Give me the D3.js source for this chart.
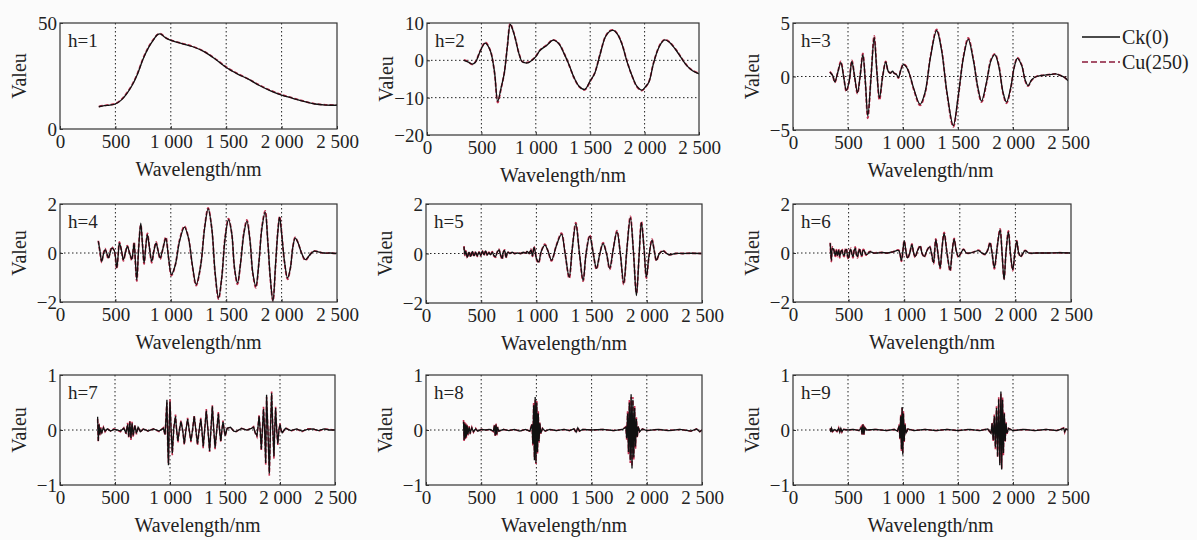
<!DOCTYPE html>
<html>
<head>
<meta charset="utf-8">
<script src="https://cdn.jsdelivr.net/npm/d3@7"></script>
<style>
body { margin: 0; background: #fbfbfb; }
</style>
</head>
<body>
<svg id="chart" width="1197" height="540"></svg>
<script>

// wavelength ticks shared by every panel
var xTicks = [0, 500, 1000, 1500, 2000, 2500];
var xTickLabels = ["0", "500", "1 000", "1 500", "2 000", "2 500"];
var seriesNames = ["Ck(0)", "Cu(250)"];

// rows: [wavelength, Ck(0), Cu(250)]
var h1 = [[350,10.5,10.6],[400,11,11.1],[450,11.3,11.4],[500,11.8,12],[550,13.5,13.7],[600,16.5,16.8],[650,20.5,20.8],[700,26,26.3],[750,33,33.3],[800,38.5,38.8],[850,42.5,42.7],[880,44.5,44.6],[910,44.8,44.9],[940,43.5,43.7],[970,42.5,42.6],[1000,41.8,41.9],[1100,40.3,40.4],[1200,38.8,38.9],[1300,36.5,36.6],[1400,33,33.2],[1500,29,29.2],[1600,26,26.2],[1700,23.5,23.6],[1800,20.5,20.7],[1900,18,18.2],[2000,16,16.2],[2100,14.5,14.6],[2200,13,13.1],[2300,11.8,11.9],[2400,11.3,11.4],[2500,11.2,11.3]];

var h2 = [[340,0,0.1],[380,-0.5,-0.4],[415,-1,-1.1],[445,-0.5,-0.4],[490,2.5,2.6],[535,4.6,4.8],[580,2.7,2.8],[620,-3,-3.2],[650,-11,-11.3],[680,-7.5,-7.7],[710,-3.5,-3.4],[740,4,4.2],[765,9.6,9.8],[790,8,8.1],[815,5.4,5.5],[845,1.8,1.9],[875,-0.4,-0.3],[905,-0.7,-0.6],[935,-0.6,-0.5],[965,0,0.1],[1000,1,1.1],[1040,2.7,2.8],[1100,4,4.1],[1160,5.4,5.5],[1210,4.5,4.6],[1260,1.8,1.9],[1310,-1.5,-1.6],[1350,-4.5,-4.6],[1400,-7,-7.1],[1450,-7.8,-7.9],[1500,-5.5,-5.6],[1540,-3.6,-3.5],[1590,1.5,1.6],[1640,6.3,6.4],[1680,7.8,7.9],[1715,8,8.1],[1750,7,7.1],[1790,4.5,4.6],[1840,-0.5,-0.4],[1890,-4.5,-4.6],[1930,-7,-7.1],[1975,-8,-8.1],[2010,-7,-7.1],[2040,-5.8,-5.7],[2080,-1,-0.9],[2120,2.7,2.8],[2150,4.5,4.6],[2185,5.5,5.6],[2230,4.8,4.9],[2290,2.7,2.8],[2340,0.5,0.6],[2390,-1.5,-1.4],[2440,-2.8,-2.7],[2500,-3.6,-3.5]];

var h3 = [[335,0.4,0.45],[360,0.1,0.1],[380,-0.5,-0.55],[405,0.3,0.3],[435,1.3,1.4],[460,0,0.05],[485,-1.3,-1.4],[510,-0.5,-0.5],[535,1.4,1.5],[560,0,0],[586,-1.5,-1.6],[610,0,0.05],[635,2.05,2.15],[658,-0.5,-0.6],[680,-3.7,-3.9],[710,0,0.1],[738,3.66,3.8],[762,0.5,0.6],[786,-2,-2.2],[815,0,0],[843,1.36,1.4],[865,0.5,0.5],[885,0.3,0.35],[905,0.5,0.45],[920,0.3,0.3],[940,0.2,0.2],[958,-0.1,-0.15],[980,0.6,0.6],[1003,1.1,1.15],[1030,0.9,0.95],[1060,0.2,0.2],[1100,-1.2,-1.3],[1155,-2.6,-2.7],[1200,-1.5,-1.6],[1250,1.8,1.9],[1306,4.3,4.4],[1350,2.5,2.6],[1400,-1.5,-1.6],[1457,-4.6,-4.7],[1500,-2,-2.1],[1550,1.8,1.9],[1593,3.5,3.6],[1640,1.5,1.6],[1680,-1,-1.1],[1714,-2.3,-2.4],[1760,-0.5,-0.6],[1800,1.5,1.6],[1835,2.05,2.1],[1870,1,1.1],[1910,-1.5,-1.6],[1941,-2.4,-2.5],[1980,-1,-1.1],[2010,0.8,0.85],[2040,1.7,1.75],[2080,1,1.05],[2110,-0.3,-0.4],[2137,-0.85,-0.9],[2170,-0.3,-0.35],[2213,0,0],[2260,0.1,0.1],[2304,0.15,0.15],[2350,0.2,0.2],[2388,0.25,0.25],[2430,0.1,0.1],[2470,-0.1,-0.1],[2500,-0.4,-0.4]];

var h4 = [[346,0.48,0.5],[360,0.1,0.05],[376,-0.34,-0.38],[392,-0.05,0],[407,0.14,0.18],[422,0,-0.05],[437,-0.2,-0.24],[452,0,0.05],[467,0.2,0.25],[490,0.1,0.08],[512,-0.6,-0.65],[525,-0.1,-0.05],[536,0.4,0.45],[555,0.1,0.1],[572,-0.27,-0.32],[590,0,0.02],[608,0.27,0.3],[628,0,0],[648,-0.25,-0.3],[660,0.1,0.1],[669,0.4,0.45],[680,-0.3,-0.35],[693,-1.1,-1.15],[710,0.2,0.25],[729,1.22,1.15],[745,0.3,0.35],[759,-0.4,-0.45],[775,0.3,0.3],[789,0.75,0.8],[808,0.2,0.2],[828,-0.34,-0.4],[848,0.1,0.1],[867,0.4,0.45],[885,0.1,0.1],[904,-0.2,-0.25],[930,0.2,0.2],[955,0.6,0.65],[980,-0.2,-0.2],[1006,-0.88,-0.92],[1040,-0.5,-0.5],[1080,0.5,0.55],[1123,1.06,1.1],[1160,0.6,0.6],[1195,-0.5,-0.55],[1229,-1.29,-1.33],[1270,-0.5,-0.5],[1305,1,1.05],[1337,1.81,1.84],[1370,1,1],[1400,-0.8,-0.85],[1431,-1.84,-1.88],[1460,-1,-1],[1490,0.6,0.65],[1521,1.36,1.4],[1550,0.8,0.8],[1575,-0.6,-0.65],[1602,-1.22,-1.28],[1630,-0.4,-0.4],[1660,0.8,0.85],[1687,1.3,1.35],[1715,0.5,0.5],[1740,-0.8,-0.85],[1768,-1.36,-1.42],[1795,-0.4,-0.4],[1822,1,1.05],[1852,1.67,1.72],[1875,0.5,0.5],[1898,-1,-1.05],[1922,-1.97,-1.95],[1945,-0.5,-0.55],[1965,0.8,0.85],[1982,1.46,1.5],[2000,0.8,0.85],[2025,-0.3,-0.35],[2054,-1.02,-1.08],[2080,-0.6,-0.6],[2100,0.2,0.2],[2123,0.61,0.64],[2150,0.4,0.4],[2180,0,0],[2214,-0.27,-0.3],[2250,-0.1,-0.1],[2289,0.07,0.08],[2330,0.05,0.05],[2380,0,0],[2440,0,0],[2494,-0.02,-0.02]];

var h5 = [[344,0.27,0.3],[352,-0.05,-0.08],[360,0.1,0.12],[375,-0.15,-0.18],[390,0.05,0.08],[405,-0.12,-0.15],[420,0.08,0.1],[435,-0.1,-0.12],[450,0.05,0.08],[465,-0.1,-0.12],[480,0.05,0.06],[495,-0.08,-0.1],[510,0.1,0.12],[525,-0.05,-0.08],[540,0.1,0.12],[555,-0.06,-0.08],[570,0.03,0.05],[585,-0.05,-0.06],[600,0.05,0.07],[615,-0.08,-0.1],[630,-0.12,-0.15],[645,0.05,0.06],[660,0.15,0.18],[675,-0.05,-0.06],[690,-0.2,-0.24],[700,0.05,0.06],[712,0.12,0.15],[725,-0.15,-0.18],[740,0.05,0.06],[760,0,0.01],[780,0.05,0.06],[800,0,0],[830,0.02,0.03],[860,0,0],[880,0.05,0.06],[900,0.02,0.02],[920,0.08,0.1],[935,0,0],[950,0.15,0.18],[965,-0.1,-0.12],[978,0.25,0.28],[990,0.05,0.05],[1000,-0.2,-0.22],[1020,-0.34,-0.38],[1045,0.1,0.1],[1077,0.34,0.38],[1105,0.1,0.1],[1137,-0.27,-0.3],[1180,0.3,0.32],[1227,0.78,0.82],[1260,0,0],[1297,-0.95,-1],[1325,0.2,0.2],[1357,1.2,1.25],[1390,0,0],[1423,-1.08,-1.12],[1450,0,0],[1483,0.7,0.74],[1515,0,0],[1544,-0.6,-0.64],[1575,0,0],[1604,0.4,0.44],[1635,0,0],[1664,-0.6,-0.64],[1697,0.2,0.2],[1730,0.88,0.92],[1760,0,0],[1791,-1.2,-1.25],[1820,0.2,0.2],[1851,1.45,1.5],[1880,0,0],[1906,-1.7,-1.6],[1930,-0.1,-0.1],[1951,1.25,1.3],[1975,0.2,0.2],[1996,-0.95,-1],[2020,-0.1,-0.1],[2047,0.54,0.58],[2068,0.1,0.1],[2087,-0.27,-0.3],[2115,0,0],[2147,0.1,0.12],[2180,0,0],[2207,-0.05,-0.05],[2260,0,0],[2328,0,0],[2400,0.01,0.01],[2494,0,0]];

var h6 = [[335,0.4,0.42],[345,-0.3,-0.35],[355,0.2,0.25],[365,0.15,0.18],[380,-0.1,-0.14],[390,0.1,0.14],[400,-0.1,-0.15],[410,0.12,0.16],[420,-0.15,-0.2],[430,0.05,0.08],[440,0.12,0.16],[450,-0.05,-0.08],[460,-0.1,-0.15],[470,0.1,0.14],[480,0.15,0.2],[490,-0.1,-0.15],[500,-0.2,-0.25],[510,0.05,0.08],[520,0.15,0.2],[530,-0.05,-0.08],[540,-0.15,-0.2],[550,0.1,0.15],[560,0.2,0.25],[570,-0.05,-0.08],[580,-0.15,-0.2],[590,0.05,0.08],[600,0.15,0.2],[610,-0.05,-0.08],[620,-0.1,-0.14],[630,0.1,0.14],[640,0.1,0.12],[655,-0.05,-0.08],[670,-0.05,-0.06],[685,0.03,0.05],[700,0.05,0.06],[725,0,0],[750,0,0.01],[800,0.02,0.02],[850,0,0],[900,0.05,0.05],[950,0.1,0.12],[975,-0.3,-0.34],[1000,0.48,0.5],[1015,0.1,0.1],[1030,-0.2,-0.22],[1050,0,0],[1069,0.34,0.37],[1085,0,0],[1099,-0.15,-0.18],[1120,0.1,0.1],[1144,0.27,0.3],[1160,0,0],[1180,-0.15,-0.17],[1205,0.1,0.1],[1228,0.25,0.28],[1245,0,0],[1264,-0.4,-0.44],[1284,0.54,0.58],[1303,0,0],[1323,-0.6,-0.64],[1340,0.2,0.2],[1359,0.8,0.84],[1385,0,0],[1413,-0.7,-0.74],[1430,0,0],[1449,0.57,0.6],[1468,0.1,0.1],[1488,-0.15,-0.17],[1510,0,0],[1533,0.15,0.16],[1560,0,0],[1593,0,0],[1630,0.05,0.05],[1668,0.1,0.12],[1700,0,0],[1728,-0.05,-0.06],[1750,0.1,0.12],[1772,0.4,0.44],[1790,0,0],[1811,-0.6,-0.65],[1835,0.2,0.2],[1862,0.95,0.98],[1880,0,0],[1898,-1.09,-1.05],[1915,0,0],[1937,0.86,0.9],[1955,0,0],[1976,-0.68,-0.72],[1995,0,0],[2012,0.48,0.5],[2030,0,0],[2048,-0.14,-0.16],[2070,0,0],[2087,0.1,0.11],[2120,0,0],[2192,0,0],[2300,0,0],[2400,0.01,0.01],[2491,0,0]];

var h7 = [[342,0.24,0.2],[348,-0.2,-0.22],[355,0.1,0.12],[362,-0.08,-0.1],[370,0.03,0.05],[380,-0.05,-0.06],[395,0.04,0.05],[410,-0.02,-0.03],[430,0.02,0.03],[460,-0.02,-0.02],[490,0.01,0.02],[520,0,0],[550,-0.02,-0.03],[580,0.03,0.04],[600,-0.05,-0.07],[615,0.1,0.13],[625,-0.12,-0.15],[635,0.15,0.18],[645,-0.15,-0.18],[655,0.12,0.15],[665,-0.1,-0.13],[680,0.08,0.1],[695,-0.06,-0.08],[710,0.05,0.06],[730,-0.03,-0.04],[760,0.02,0.03],[800,-0.02,-0.02],[850,0.02,0.02],[900,-0.02,-0.03],[940,0.03,0.04],[955,-0.08,-0.1],[965,0.25,0.3],[972,0.55,0.5],[980,-0.3,-0.35],[986,-0.64,-0.6],[993,0.1,0.12],[1000,0.52,0.56],[1010,0,0],[1021,-0.42,-0.46],[1035,0.05,0.05],[1050,0.25,0.28],[1060,0,0],[1072,-0.2,-0.23],[1085,0,0],[1100,0.15,0.17],[1115,0,0],[1130,-0.25,-0.27],[1145,0,0],[1160,0.2,0.22],[1175,0,0],[1190,-0.2,-0.22],[1205,0,0],[1220,0.25,0.27],[1235,0,0],[1250,-0.25,-0.28],[1265,0,0],[1280,0.2,0.22],[1290,0,0],[1302,-0.3,-0.33],[1315,0,0],[1330,0.35,0.38],[1345,0,0],[1360,-0.38,-0.4],[1372,0,0],[1385,0.43,0.45],[1398,0,0],[1410,-0.32,-0.35],[1425,0,0],[1440,0.3,0.33],[1450,0,0],[1462,-0.2,-0.22],[1472,0,0],[1482,0.15,0.17],[1492,0,0],[1502,-0.1,-0.11],[1520,0.03,0.03],[1550,0.05,0.05],[1580,-0.02,-0.02],[1600,-0.03,-0.03],[1650,0.03,0.03],[1700,0,0],[1740,0.03,0.03],[1760,0.05,0.06],[1775,-0.05,-0.06],[1790,-0.1,-0.12],[1800,0.05,0.06],[1810,0.25,0.28],[1820,0,0],[1830,-0.35,-0.38],[1840,0,0],[1850,0.38,0.42],[1860,0,0],[1870,-0.6,-0.64],[1878,0.64,0.6],[1890,0,0],[1903,-0.79,-0.83],[1913,0,0],[1924,0.67,0.7],[1935,0,0],[1945,-0.48,-0.52],[1952,0,0],[1960,0.4,0.42],[1970,0,0],[1980,-0.25,-0.27],[1990,0,0],[2000,0.1,0.12],[2010,0,0],[2020,-0.05,-0.06],[2050,0.03,0.04],[2100,-0.01,-0.02],[2150,0.02,0.02],[2200,-0.02,-0.03],[2250,0.01,0.02],[2300,0.02,0.02],[2350,-0.01,-0.02],[2400,0.02,0.02],[2450,0,0.01],[2500,0,0]];

var h8 = [[340,0.15,0.18],[345,-0.18,-0.2],[350,0.12,0.16],[355,-0.15,-0.18],[360,0.1,0.13],[365,-0.12,-0.15],[372,0.08,0.1],[380,-0.08,-0.1],[390,0.05,0.07],[400,-0.05,-0.07],[415,0.04,0.05],[430,-0.03,-0.04],[450,0.02,0.03],[470,-0.02,-0.03],[500,0.01,0.01],[540,0,0],[580,0.01,0.01],[610,-0.02,-0.03],[620,0.08,0.1],[627,-0.1,-0.12],[634,0.1,0.12],[641,-0.08,-0.1],[648,0.05,0.06],[660,-0.02,-0.02],[700,0.01,0.01],[750,-0.01,-0.01],[800,0.01,0.01],[850,-0.02,-0.02],[900,0.01,0.01],[940,-0.02,-0.02],[960,0.1,0.12],[968,-0.25,-0.28],[975,0.45,0.5],[982,-0.55,-0.5],[989,0.6,0.55],[996,-0.6,-0.62],[1003,0.5,0.54],[1010,-0.4,-0.44],[1017,0.3,0.34],[1024,-0.2,-0.23],[1031,0.12,0.14],[1040,-0.06,-0.07],[1055,0.03,0.03],[1080,-0.02,-0.02],[1120,0.01,0.01],[1180,-0.01,-0.01],[1250,0.01,0.01],[1300,-0.01,-0.01],[1340,0.02,0.02],[1360,-0.04,-0.05],[1375,0.04,0.05],[1390,-0.02,-0.02],[1420,0.01,0.01],[1500,0,0],[1600,0.01,0.01],[1700,-0.01,-0.01],[1780,0.01,0.01],[1810,0.05,0.06],[1818,-0.15,-0.18],[1826,0.3,0.34],[1834,-0.4,-0.44],[1842,0.5,0.55],[1850,-0.55,-0.6],[1858,0.65,0.6],[1866,-0.7,-0.66],[1874,0.55,0.6],[1882,-0.5,-0.55],[1890,0.4,0.44],[1898,-0.3,-0.34],[1906,0.2,0.23],[1914,-0.12,-0.14],[1922,0.06,0.07],[1935,-0.03,-0.03],[1960,0.02,0.02],[2000,-0.01,-0.01],[2100,0.01,0.01],[2200,-0.01,-0.01],[2300,0.01,0.01],[2400,-0.02,-0.02],[2450,0.02,0.02],[2480,-0.03,-0.03],[2500,0,0]];

var h9 = [[340,0.03,0.04],[345,-0.04,-0.05],[350,0.03,0.04],[360,-0.02,-0.03],[380,0.01,0.01],[400,-0.02,-0.03],[415,0.03,0.04],[425,-0.04,-0.05],[435,0.03,0.04],[445,-0.03,-0.04],[460,0.01,0.01],[500,0,0],[550,0.01,0.01],[600,-0.01,-0.01],[620,0.04,0.06],[628,-0.08,-0.1],[636,0.1,0.12],[644,-0.08,-0.1],[652,0.04,0.05],[670,0,0],[750,0.01,0.01],[850,-0.01,-0.01],[920,0.01,0.01],[950,-0.02,-0.02],[965,0.08,0.1],[972,-0.15,-0.18],[979,0.25,0.28],[986,-0.35,-0.38],[992,0.42,0.4],[998,-0.45,-0.42],[1004,0.3,0.34],[1011,-0.2,-0.23],[1018,0.1,0.12],[1028,-0.05,-0.06],[1045,0.02,0.02],[1100,-0.01,-0.01],[1200,0.01,0.01],[1300,-0.01,-0.01],[1400,0.01,0.01],[1500,-0.01,-0.01],[1600,0.01,0.01],[1700,-0.01,-0.01],[1770,0.02,0.02],[1800,-0.06,-0.07],[1810,0.12,0.14],[1820,-0.18,-0.2],[1830,0.25,0.28],[1840,-0.32,-0.35],[1850,0.4,0.43],[1860,-0.48,-0.5],[1870,0.56,0.6],[1880,-0.64,-0.6],[1890,0.7,0.66],[1897,-0.72,-0.7],[1905,0.55,0.6],[1913,-0.42,-0.46],[1921,0.3,0.33],[1929,-0.2,-0.22],[1937,0.12,0.14],[1945,-0.06,-0.07],[1960,0.03,0.03],[2000,-0.01,-0.01],[2100,0.01,0.01],[2200,-0.01,-0.01],[2300,0.01,0.01],[2400,-0.01,-0.01],[2460,0.03,0.04],[2470,-0.03,-0.04],[2480,0.02,0.03],[2500,0,0]];

// panel layout: box = [left, top, right, bottom]
var panels = [
    { label: "h=1", data: h1, yDomain: [0, 50], yTicks: [0, 50], box: [60, 23, 337, 129], smooth: true },
    { label: "h=2", data: h2, yDomain: [-20, 10], yTicks: [-20, -10, 0, 10], box: [427, 23, 699, 135], smooth: true },
    { label: "h=3", data: h3, yDomain: [-5, 5], yTicks: [-5, 0, 5], box: [793, 23, 1068, 130], smooth: true },
    { label: "h=4", data: h4, yDomain: [-2, 2], yTicks: [-2, 0, 2], box: [60, 204, 337, 302], smooth: true },
    { label: "h=5", data: h5, yDomain: [-2, 2], yTicks: [-2, 0, 2], box: [426, 204, 702, 303], smooth: true },
    { label: "h=6", data: h6, yDomain: [-2, 2], yTicks: [-2, 0, 2], box: [793, 204, 1071, 302], smooth: true },
    { label: "h=7", data: h7, yDomain: [-1, 1], yTicks: [-1, 0, 1], box: [60, 375, 335, 485], smooth: false },
    { label: "h=8", data: h8, yDomain: [-1, 1], yTicks: [-1, 0, 1], box: [426, 375, 702, 485], smooth: false },
    { label: "h=9", data: h9, yDomain: [-1, 1], yTicks: [-1, 0, 1], box: [793, 375, 1068, 485], smooth: false }
];

var ckColor = "#111";
var cuColor = "#c0304f";
var serif = "'Liberation Serif', 'DejaVu Serif', serif";

var svg = d3.select("#chart");

panels.forEach(function (p, i)
{
    var b = p.box;
    var x = d3.scaleLinear().domain([0, 2500]).range([b[0], b[2]]);
    var y = d3.scaleLinear().domain(p.yDomain).range([b[3], b[1]]);
    var g = svg.append("g");

    g.append("clipPath").attr("id", "clip" + i)
        .append("rect")
        .attr("x", b[0]).attr("y", b[1])
        .attr("width", b[2] - b[0]).attr("height", b[3] - b[1]);

    // dotted grid
    g.selectAll(".vgrid")
        .data(xTicks.filter(function (t) { return t > 0 && t < 2500; }))
        .enter().append("line")
        .attr("x1", function (d) { return x(d); }).attr("x2", function (d) { return x(d); })
        .attr("y1", b[1]).attr("y2", b[3])
        .attr("stroke", "#222").attr("stroke-width", 1)
        .attr("stroke-dasharray", "1.5,2.5");

    g.selectAll(".hgrid")
        .data(p.yTicks.filter(function (t) { return t > p.yDomain[0] && t < p.yDomain[1]; }))
        .enter().append("line")
        .attr("x1", b[0]).attr("x2", b[2])
        .attr("y1", function (d) { return y(d); }).attr("y2", function (d) { return y(d); })
        .attr("stroke", "#222").attr("stroke-width", 1)
        .attr("stroke-dasharray", "1.5,2.5");

    var curve = p.smooth ? d3.curveCatmullRom : d3.curveLinear;
    var cuLine = d3.line().x(function (d) { return x(d[0]); }).y(function (d) { return y(d[2]); }).curve(curve);
    var ckLine = d3.line().x(function (d) { return x(d[0]); }).y(function (d) { return y(d[1]); }).curve(curve);

    var plot = g.append("g").attr("clip-path", "url(#clip" + i + ")");
    plot.append("path").datum(p.data)
        .attr("d", cuLine)
        .attr("fill", "none")
        .attr("stroke", cuColor)
        .attr("stroke-width", p.smooth ? 1.8 : 1.6)
        .attr("stroke-dasharray", "4,2");
    plot.append("path").datum(p.data)
        .attr("d", ckLine)
        .attr("fill", "none")
        .attr("stroke", ckColor)
        .attr("stroke-width", 1.3);

    // axes, ticks pointing inward
    var xAxis = g.append("g")
        .attr("transform", "translate(0," + b[3] + ")")
        .call(d3.axisBottom(x).tickValues(xTicks)
            .tickFormat(function (d, k) { return xTickLabels[k]; })
            .tickSizeInner(-3).tickSizeOuter(0).tickPadding(6));
    var yAxis = g.append("g")
        .attr("transform", "translate(" + b[0] + ",0)")
        .call(d3.axisLeft(y).tickValues(p.yTicks)
            .tickFormat(d3.format("d"))
            .tickSizeInner(-3).tickSizeOuter(0).tickPadding(3));

    [xAxis, yAxis].forEach(function (a)
    {
        a.attr("font-family", null).attr("font-size", null);
        a.select(".domain").remove();
        a.selectAll("line").attr("stroke", "#333");
        a.selectAll("text")
            .style("font-family", serif)
            .style("font-size", "19px")
            .attr("fill", "#222");
    });
    yAxis.selectAll("text").attr("dy", "0.35em");

    g.append("rect")
        .attr("x", b[0]).attr("y", b[1])
        .attr("width", b[2] - b[0]).attr("height", b[3] - b[1])
        .attr("fill", "none").attr("stroke", "#333").attr("stroke-width", 1.2);

    g.append("text")
        .attr("x", b[0] + 8).attr("y", b[1] + 24)
        .style("font-family", serif)
        .style("font-size", "19px")
        .attr("fill", "#222")
        .text(p.label);

    g.append("text")
        .attr("x", (b[0] + b[2]) / 2).attr("y", b[3] + 47)
        .attr("text-anchor", "middle")
        .style("font-family", serif)
        .style("font-size", "20px")
        .attr("fill", "#222")
        .text("Wavelength/nm");

    var cy = (b[1] + b[3]) / 2;
    g.append("text")
        .attr("transform", "translate(" + (b[0] - 34) + "," + cy + ") rotate(-90)")
        .attr("text-anchor", "middle")
        .style("font-family", serif)
        .style("font-size", "20px")
        .attr("fill", "#222")
        .text("Valeu");
});

// legend next to the h=3 panel
var legend = svg.append("g").attr("transform", "translate(1082,37)");
seriesNames.forEach(function (name, k)
{
    var row = legend.append("g").attr("transform", "translate(0," + (k * 25) + ")");
    row.append("line")
        .attr("x1", 0).attr("x2", 38).attr("y1", 0).attr("y2", 0)
        .attr("stroke", k === 0 ? ckColor : "#8b1a3a")
        .attr("stroke-width", 1.3)
        .attr("stroke-dasharray", k === 0 ? null : "6,3");
    row.append("text")
        .attr("x", 40).attr("y", 0).attr("dy", "0.35em")
        .style("font-family", serif)
        .style("font-size", "20px")
        .attr("fill", "#222")
        .text(name);
});
</script>
</body>
</html>
